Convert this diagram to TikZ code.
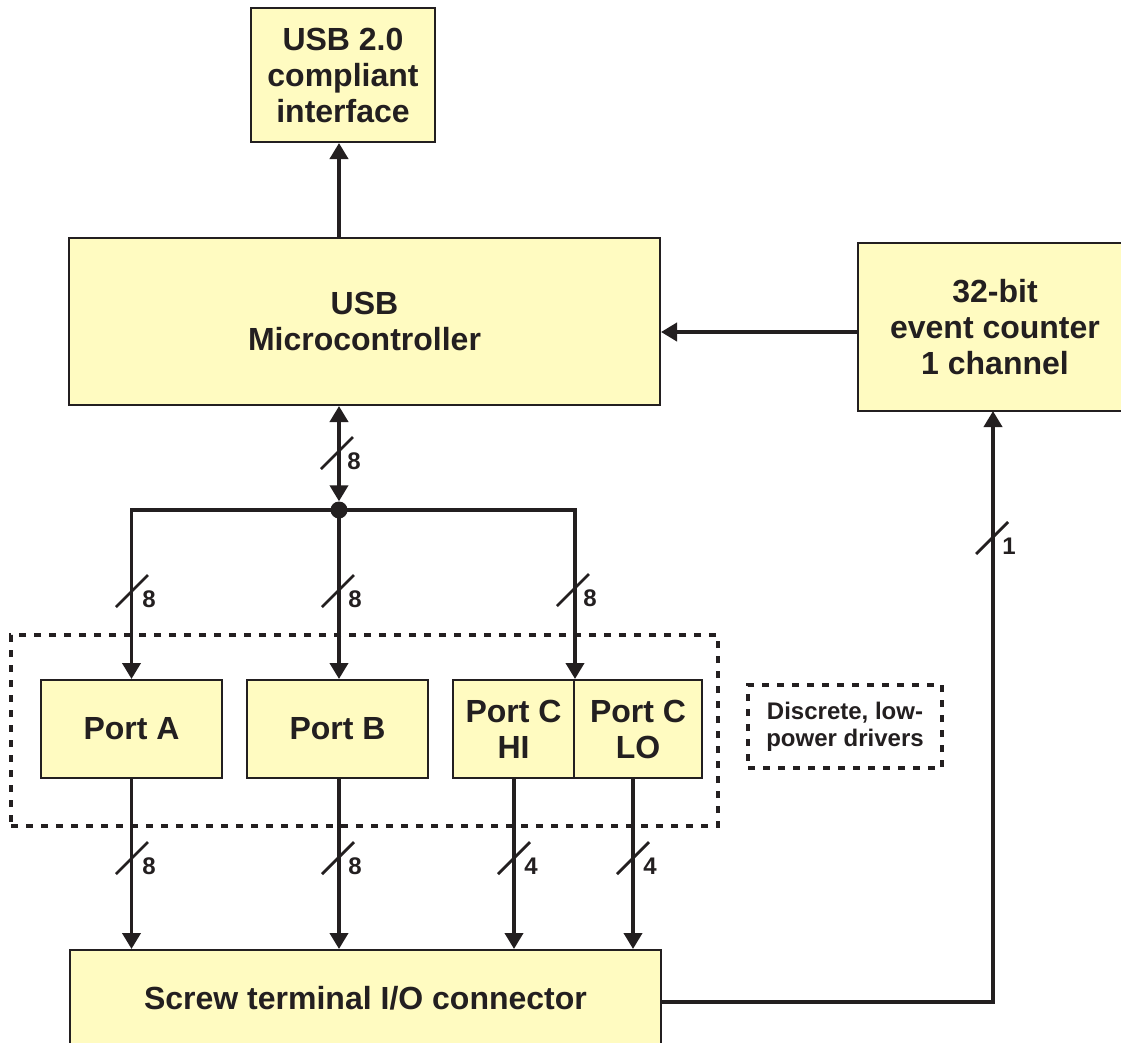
\documentclass[tikz,border=0pt]{standalone}
\usepackage{fontspec}
\setmainfont{Liberation Sans}
\usetikzlibrary{arrows.meta,calc}
\definecolor{boxfill}{RGB}{255,251,193}
\definecolor{ink}{RGB}{35,31,32}
\newcommand\busmark[4]{%
  \draw[slashln] ({#1-16},{#2+16}) -- ({#1+16},{#2-16});
  \node[buslbl] (#4) at ({#1+17},{#2+8}) {#3};}
\begin{document}
\begin{tikzpicture}[x=1pt,y=-1pt,
  blk/.style={draw=ink,line width=2pt,fill=boxfill,inner sep=0pt,align=center,
    font=\fontsize{32}{36}\selectfont\bfseries,text=ink},
  conn/.style={draw=ink,line width=3.8pt},
  arr/.style={conn,-{Triangle[width=18pt,length=16pt]}},
  darr/.style={conn,{Triangle[width=18pt,length=16pt]}-{Triangle[width=18pt,length=16pt]}},
  slashln/.style={draw=ink,line width=2.8pt},
  buslbl/.style={font=\fontsize{24}{26}\selectfont\bfseries,text=ink,inner sep=0pt},
  dashbox/.style={draw=ink,line width=3.5pt,dash pattern=on 7pt off 8pt,inner sep=0pt,align=center,
    font=\fontsize{24}{27}\selectfont\bfseries,text=ink}
]
\useasboundingbox (0,0) rectangle (1121,1042);
\fill[white] (0,0) rectangle (1121,1042);

% enclosure
\node[dashbox,minimum width=707,minimum height=191] (drv) at (364.5,730.5) {};

% blocks
\node[blk,minimum width=184,minimum height=134] (usb) at (343,75) {USB 2.0\\compliant\\interface};
\node[blk,minimum width=591,minimum height=167] (micro) at (364.5,321.5) {USB\\Microcontroller};
\node[blk,minimum width=274,minimum height=168] (counter) at (995,327) {32-bit\\event counter\\1 channel};
\node[blk,minimum width=181,minimum height=98] (portA) at (131.5,729) {Port A};
\node[blk,minimum width=181,minimum height=98] (portB) at (337.5,729) {Port B};
\node[blk,minimum width=121,minimum height=98] (portChi) at (513.5,729) {Port C\\HI};
\node[blk,minimum width=128,minimum height=98] (portClo) at (638,729) {Port C\\LO};
\node[blk,minimum width=591,minimum height=96] (screw) at (365.5,998) {Screw terminal I/O connector};
\node[dashbox,minimum width=194,minimum height=83] (note) at (845,726.5) {Discrete, low-\\power drivers};

% coordinates
\coordinate (j) at (339,510);
\coordinate (cin) at (858,332);
\coordinate (lox) at (633,0);
\coordinate (hix) at (514,0);
\coordinate (sout) at (661,1002);
\coordinate (cx) at (993,411);

% junction
\node[circle,fill=ink,minimum size=17,inner sep=0pt] (jdot) at (j) {};

% connectors
\draw[arr] (micro.north -| j) -- (usb.south -| j);
\draw[arr] (cin) -- (micro.east |- cin);
\draw[darr] (micro.south -| j) -- (jdot.north);
\draw[arr] (jdot.center) -| (portA.north);
\draw[arr] (jdot.center) -- (portB.north -| j);
\draw[arr] (jdot.center) -| (portChi.north east);
\draw[arr] (portA.south) -- (screw.north -| portA.south);
\draw[arr] (portB.south -| j) -- (screw.north -| j);
\draw[arr] (portChi.south -| hix) -- (screw.north -| hix);
\draw[arr] (portClo.south -| lox) -- (screw.north -| lox);
\draw[arr] (sout) -| (cx);

% bus width marks
\busmark{337}{453}{8}{l1}
\busmark{132}{591}{8}{l2}
\busmark{338}{591}{8}{l3}
\busmark{573}{590}{8}{l4}
\busmark{132}{858}{8}{l5}
\busmark{338}{858}{8}{l6}
\busmark{514}{858}{4}{l7}
\busmark{633}{858}{4}{l8}
\busmark{992}{538}{1}{l9}
\end{tikzpicture}
\end{document}
